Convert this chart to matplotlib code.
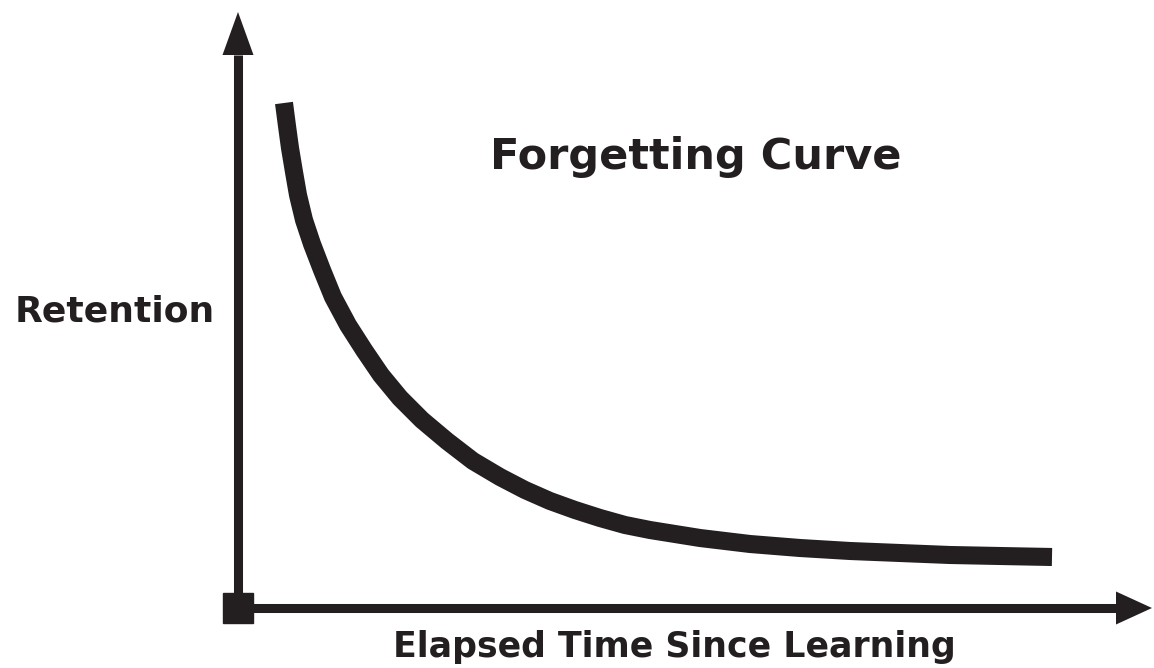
import matplotlib.pyplot as plt

# forgetting curve (arbitrary units)
elapsed = [0.46, 0.49, 0.52, 0.56, 0.60, 0.66, 0.74, 0.84, 0.95, 1.10,
           1.26, 1.43, 1.62, 1.84, 2.09, 2.35, 2.62, 2.87, 3.12, 3.37,
           3.62, 3.87, 4.12, 4.37, 4.62, 5.12, 5.62, 6.12, 6.62, 7.12,
           7.62, 8.14]
retention = [101.0, 96.4, 92.0, 87.2, 82.6, 77.6, 72.8, 67.6, 62.2, 56.6,
             51.6, 46.6, 42.0, 37.6, 33.4, 29.4, 26.2, 23.6, 21.4, 19.6,
             18.0, 16.6, 15.6, 14.8, 14.0, 12.8, 12.0, 11.4, 11.0, 10.6,
             10.4, 10.2]

title = "Forgetting Curve"
ylabel = "Retention"
xlabel = "Elapsed Time Since Learning"

ink = "#231f20"
plt.rcParams['font.family'] = ['DejaVu Sans']

fig = plt.figure(figsize=(11.54, 6.68), dpi=100)
ax = fig.add_axes([0, 0, 1, 1])
ax.set_xlim(-2.38, 9.16)
ax.set_ylim(-12, 121.6)
ax.axis('off')

# axis arrows: shaft end, tip, and half width of the head
y_base, y_tip, y_half = 110.6, 119.2, 0.155
x_base, x_tip, x_half = 8.78, 9.14, 3.3
ax.plot([0, 0], [0, y_base], color=ink, lw=6.5, solid_capstyle='butt')
ax.fill([-y_half, 0, y_half], [y_base, y_tip, y_base], color=ink, lw=0)
ax.plot([0, x_base], [0, 0], color=ink, lw=6.5, solid_capstyle='butt')
ax.fill([x_base, x_tip, x_base], [-x_half, 0, x_half], color=ink, lw=0)
ax.plot([0], [0], marker='s', markersize=21.6, color=ink)

ax.plot(elapsed, retention, color=ink, lw=13, solid_capstyle='butt',
        solid_joinstyle='round')

fig.text(0.603, 0.747, title, ha='center', va='baseline', fontsize=31,
         weight='bold', color=ink)
fig.text(0.013, 0.518, ylabel, ha='left', va='baseline', fontsize=26,
         weight='bold', color=ink)
fig.text(0.584, 0.0165, xlabel, ha='center', va='baseline', fontsize=25,
         weight='bold', color=ink)

fig.savefig('out.png', dpi=100)
